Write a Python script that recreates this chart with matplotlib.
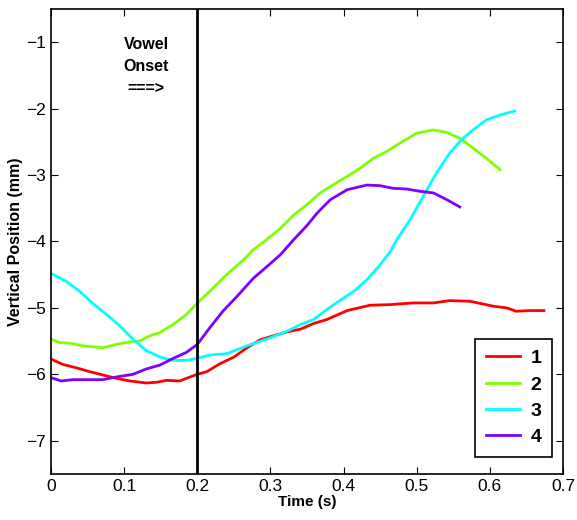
import matplotlib

matplotlib.use("Agg")
import matplotlib.pyplot as plt

plt.rcParams["font.family"] = ["Liberation Sans", "DejaVu Sans"]

# trajectories (time in s, position in mm)
t1 = [0.0, 0.016, 0.034, 0.053, 0.071, 0.089, 0.108, 0.13, 0.144, 0.158, 0.176,
      0.19, 0.2, 0.213, 0.231, 0.25, 0.268, 0.286, 0.304, 0.323, 0.341, 0.359,
      0.377, 0.405, 0.436, 0.464, 0.495, 0.523, 0.545, 0.573, 0.605, 0.623,
      0.636, 0.655, 0.674]
y1 = [-5.77, -5.85, -5.90, -5.96, -6.01, -6.06, -6.10, -6.13, -6.12, -6.09, -6.10,
      -6.04, -6.00, -5.96, -5.84, -5.74, -5.60, -5.48, -5.42, -5.36, -5.32, -5.235,
      -5.175, -5.04, -4.96, -4.95, -4.925, -4.925, -4.89, -4.90, -4.975, -5.0,
      -5.05, -5.04, -5.04]

t2 = [0.0, 0.011, 0.025, 0.043, 0.071, 0.089, 0.108, 0.121, 0.135, 0.149, 0.167,
      0.185, 0.2, 0.217, 0.24, 0.263, 0.276, 0.295, 0.314, 0.332, 0.35, 0.368,
      0.386, 0.405, 0.423, 0.441, 0.459, 0.477, 0.5, 0.523, 0.541, 0.559, 0.577,
      0.595, 0.614]
y2 = [-5.47, -5.52, -5.53, -5.57, -5.60, -5.55, -5.51, -5.50, -5.42, -5.37, -5.25,
      -5.10, -4.93, -4.75, -4.50, -4.28, -4.13, -3.97, -3.80, -3.60, -3.445, -3.27,
      -3.145, -3.02, -2.895, -2.745, -2.645, -2.52, -2.37, -2.32, -2.36, -2.445,
      -2.595, -2.745, -2.92]

t3 = [0.0, 0.021, 0.039, 0.057, 0.076, 0.094, 0.112, 0.13, 0.149, 0.167, 0.185,
      0.2, 0.217, 0.24, 0.268, 0.295, 0.323, 0.341, 0.359, 0.377, 0.4, 0.414,
      0.432, 0.45, 0.464, 0.473, 0.491, 0.509, 0.527, 0.545, 0.561, 0.577, 0.595,
      0.614, 0.634]
y3 = [-4.48, -4.60, -4.75, -4.93, -5.10, -5.27, -5.47, -5.64, -5.74, -5.79, -5.79,
      -5.76, -5.71, -5.69, -5.57, -5.47, -5.35, -5.25, -5.175, -5.025, -4.85, -4.75,
      -4.575, -4.35, -4.15, -3.97, -3.67, -3.32, -2.97, -2.67, -2.47, -2.32, -2.17,
      -2.095, -2.035]

t4 = [0.0, 0.014, 0.03, 0.048, 0.071, 0.089, 0.112, 0.13, 0.149, 0.167, 0.185,
      0.2, 0.217, 0.235, 0.254, 0.277, 0.295, 0.314, 0.332, 0.35, 0.364, 0.382,
      0.405, 0.432, 0.45, 0.468, 0.486, 0.505, 0.523, 0.541, 0.559]
y4 = [-6.05, -6.10, -6.08, -6.08, -6.08, -6.04, -6.00, -5.92, -5.86, -5.76, -5.67,
      -5.55, -5.30, -5.05, -4.83, -4.55, -4.38, -4.195, -3.97, -3.76, -3.57, -3.37,
      -3.22, -3.15, -3.16, -3.20, -3.21, -3.245, -3.27, -3.37, -3.48]

labels = ["1", "2", "3", "4"]
colors = ["#ff0000", "#80ff00", "#00ffff", "#8000ff"]
onset = 0.2

fig = plt.figure(figsize=(5.77, 5.2), dpi=100)
ax = fig.add_axes([0.0884, 0.0885, 0.8873, 0.8942])

for t, y, lab, c in zip([t1, t2, t3, t4], [y1, y2, y3, y4], labels, colors):
    ax.plot(t, y, color=c, lw=2, label=lab)

ax.axvline(onset, color="black", lw=2)
ax.text(0.13, -1.37, "Vowel\nOnset\n===>", ha="center", va="center",
        fontsize=11.5, fontweight="bold", linespacing=1.6)

ax.set_xlim(0, 0.7)
ax.set_ylim(-7.5, -0.5)
ax.set_xticks([0, 0.1, 0.2, 0.3, 0.4, 0.5, 0.6, 0.7])
ax.set_xticklabels(["0", "0.1", "0.2", "0.3", "0.4", "0.5", "0.6", "0.7"])
ax.set_yticks([-7, -6, -5, -4, -3, -2, -1])
ax.tick_params(direction="in", top=True, right=True, labelsize=12.5, length=5)
for s in ax.spines.values():
    s.set_linewidth(1.2)

ax.set_xlabel("Time (s)", fontsize=11, fontweight="bold", labelpad=1)
ax.set_ylabel("Vertical Position (mm)", fontsize=11.5, fontweight="bold", labelpad=2)

leg = ax.legend(loc="lower right", bbox_to_anchor=(0.9785, 0.0366), borderaxespad=0,
                fancybox=False, edgecolor="black", framealpha=1, handlelength=1.75,
                prop={"weight": "bold", "size": 14}, labelspacing=0.45,
                borderpad=0.55, handletextpad=0.55)
leg.get_frame().set_linewidth(1.2)

fig.savefig("out.png", dpi=100)
